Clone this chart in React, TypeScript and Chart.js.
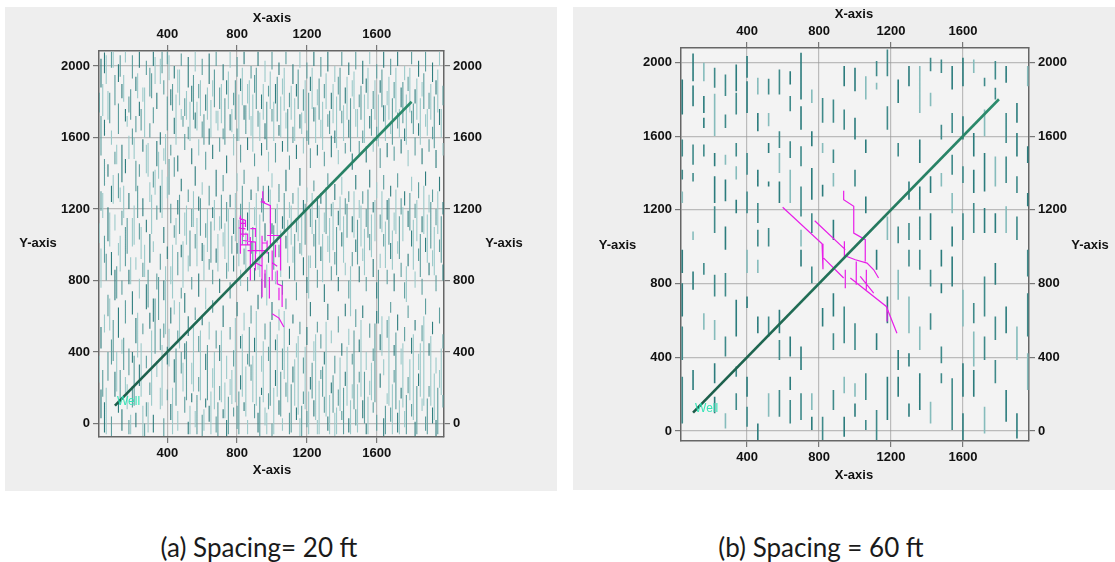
import { useEffect, useRef } from "react";
import { Chart, registerables } from "chart.js";

Chart.register(...registerables);

// ---------- data ----------
const X_TICKS = [400, 800, 1200, 1600];
const Y_TICKS = [0, 400, 800, 1200, 1600, 2000];
const WELL_X = [100, 1800];
const WELL_Y = [100, 1800];
const CAPTIONS = ["(a) Spacing= 20 ft", "(b) Spacing = 60 ft"];
const X_TITLE = "X-axis";
const Y_TITLE = "Y-axis";
const WELL_LABEL = "Well";

// natural fractures, panel (a): [x, y1, y2, y1, y2, ...]
const FRACS_A: number[][] = [
  [20, 1880, 2040, 1500, 1720, 1190, 1300, 760, 980, 420, 540, 30, 190],
  [40, 1960, 2075, 1610, 1700, 1330, 1480, 900, 1050, 510, 610, -50, 120],
  [60, 1700, 1860, 1380, 1450, 1020, 1210, 600, 720, 240, 400],
  [80, 1990, 2080, 1560, 1640, 1240, 1330, 830, 960, 330, 470, -70, 40],
  [100, 1780, 1950, 1450, 1520, 1080, 1170, 690, 860, 150, 290],
  [120, 1910, 2010, 1620, 1790, 1260, 1400, 940, 1010, 480, 650, 60, 130],
  [140, 1820, 1900, 1350, 1560, 1110, 1190, 720, 800, 390, 470, -40, 80],
  [160, 2020, 2080, 1690, 1760, 1400, 1480, 880, 1100, 560, 690, 170, 260],
  [180, 1740, 1830, 1480, 1610, 1200, 1290, 780, 860, 270, 420, -60, 20],
  [200, 1930, 2060, 1560, 1650, 990, 1150, 610, 740, 340, 400, 90, 210],
  [220, 1860, 1940, 1630, 1720, 1300, 1470, 860, 930, 450, 590, -20, 60],
  [240, 1990, 2080, 1720, 1800, 1380, 1450, 1030, 1120, 700, 810, 210, 330],
  [260, 1800, 1880, 1520, 1590, 1160, 1260, 820, 900, 500, 560, -70, 100],
  [280, 1950, 2030, 1400, 1560, 1070, 1140, 640, 780, 310, 380, 40, 120],
  [300, 1830, 1990, 1600, 1680, 1240, 1350, 900, 1060, 530, 620, 160, 230],
  [320, 2000, 2080, 1680, 1770, 1320, 1410, 960, 1020, 570, 700, -50, 50],
  [340, 1760, 1850, 1440, 1580, 1140, 1220, 750, 840, 260, 350],
  [360, 1900, 2040, 1560, 1630, 1180, 1330, 860, 950, 410, 530, 80, 200],
  [380, 1840, 1920, 1470, 1540, 1010, 1100, 690, 800, 480, 560, -70, 30],
  [400, 2010, 2080, 1640, 1830, 1260, 1380, 920, 990, 330, 430, 130, 190],
  [420, 1780, 1870, 1500, 1560, 1120, 1230, 780, 880, 560, 650, 20, 110],
  [440, 1930, 2000, 1620, 1710, 1380, 1490, 1040, 1110, 610, 690, 230, 360],
  [460, 1850, 1980, 1410, 1500, 1170, 1250, 830, 960, 450, 520, -40, 70],
  [480, 2000, 2070, 1700, 1760, 1300, 1370, 930, 1000, 700, 760, 280, 400],
  [500, 1720, 1820, 1530, 1620, 1050, 1180, 620, 730, 360, 450, 60, 150],
  [520, 1880, 2050, 1590, 1660, 1240, 1310, 850, 940, 490, 600, -60, 10],
  [540, 1800, 1890, 1450, 1540, 1100, 1200, 750, 820, 220, 340, 120, 170],
  [560, 1970, 2080, 1650, 1740, 1330, 1440, 980, 1060, 580, 650, -20, 70],
  [580, 1820, 1900, 1500, 1590, 1190, 1270, 710, 840, 400, 490, 180, 260],
  [600, 1950, 2040, 1600, 1690, 1280, 1350, 910, 1010, 550, 600, -70, 50],
  [620, 1750, 1840, 1420, 1520, 1040, 1120, 640, 760, 300, 390, 90, 140],
  [640, 1900, 2070, 1560, 1650, 1220, 1330, 860, 920, 470, 570, 10, 100],
  [660, 1830, 1920, 1480, 1560, 1150, 1210, 780, 860, 620, 690, 200, 310],
  [680, 2000, 2080, 1680, 1750, 1270, 1420, 900, 980, 420, 520, -50, 40],
  [700, 1760, 1880, 1520, 1600, 1080, 1160, 730, 810, 350, 440, 130, 210],
  [720, 1920, 2010, 1590, 1650, 1300, 1390, 990, 1070, 540, 660, 30, 80],
  [740, 1840, 1920, 1400, 1500, 1130, 1240, 810, 900, 250, 380, -70, 20],
  [760, 1990, 2080, 1640, 1730, 1210, 1280, 700, 790, 470, 540, 160, 250],
  [780, 1780, 1850, 1500, 1620, 1060, 1150, 850, 940, 320, 410, 40, 90],
  [800, 1940, 2050, 1580, 1650, 1300, 1400, 950, 1010, 600, 680, -30, 100],
  [820, 1860, 1930, 1460, 1560, 1150, 1230, 770, 860, 420, 490, 190, 270],
  [840, 2010, 2080, 1700, 1780, 1340, 1420, 890, 980, 520, 620, 70, 120],
  [860, 1790, 1900, 1530, 1600, 1080, 1180, 740, 820, 330, 390, -60, 20],
  [880, 1930, 2000, 1610, 1720, 1250, 1310, 950, 1020, 560, 660, 240, 330],
  [900, 1850, 1950, 1440, 1510, 1110, 1210, 800, 870, 400, 480, 30, 110],
  [920, 2000, 2080, 1660, 1750, 1300, 1380, 860, 920, 640, 720, -50, 60],
  [940, 1760, 1840, 1500, 1570, 1180, 1260, 700, 810, 290, 380, 160, 200],
  [960, 1910, 2030, 1590, 1680, 1020, 1120, 760, 840, 470, 560, -10, 90],
  [980, 1830, 1890, 1410, 1520, 1240, 1330, 900, 960, 350, 430, 80, 170],
  [1000, 1980, 2080, 1690, 1760, 1320, 1400, 1060, 1120, 580, 680, -70, 0],
  [1020, 1790, 1900, 1460, 1570, 1120, 1200, 780, 850, 410, 470, 210, 300],
  [1040, 1950, 2020, 1610, 1670, 1240, 1340, 930, 1000, 520, 640, 50, 130],
  [1060, 1840, 1930, 1520, 1580, 1090, 1160, 720, 800, 300, 420, -40, 30],
  [1080, 2010, 2080, 1650, 1740, 1300, 1420, 980, 1050, 640, 700, 150, 230],
  [1100, 1770, 1850, 1420, 1500, 1150, 1240, 810, 880, 440, 530, -60, 60],
  [1120, 1900, 2010, 1570, 1660, 1230, 1290, 900, 990, 560, 610, 230, 320],
  [1140, 1830, 1900, 1480, 1560, 1070, 1150, 690, 790, 370, 450, 20, 90],
  [1160, 1990, 2080, 1650, 1730, 1330, 1430, 950, 1010, 500, 570, -70, 30],
  [1180, 1750, 1870, 1510, 1600, 1180, 1250, 830, 930, 280, 370, 110, 180],
  [1200, 1930, 2020, 1580, 1640, 1240, 1320, 730, 820, 440, 540, -20, 70],
  [1220, 1860, 1940, 1430, 1540, 1100, 1200, 870, 940, 600, 680, 190, 260],
  [1240, 2000, 2080, 1690, 1770, 1300, 1360, 990, 1060, 350, 460, 40, 130],
  [1260, 1780, 1870, 1500, 1560, 1150, 1270, 760, 860, 510, 570, -60, 20],
  [1280, 1940, 2050, 1600, 1700, 1230, 1290, 910, 990, 420, 500, 250, 300],
  [1300, 1820, 1900, 1440, 1520, 1070, 1180, 680, 780, 330, 400, 60, 150],
  [1320, 1970, 2080, 1660, 1730, 1330, 1400, 960, 1050, 580, 670, -40, 40],
  [1340, 1760, 1850, 1490, 1610, 1160, 1230, 800, 880, 450, 520, 170, 230],
  [1360, 1910, 2000, 1570, 1640, 1250, 1340, 890, 960, 280, 380, -70, 60],
  [1380, 1840, 1940, 1450, 1530, 1110, 1190, 740, 820, 510, 600, 100, 190],
  [1400, 2000, 2080, 1680, 1750, 1280, 1380, 990, 1070, 380, 450, 20, 70],
  [1420, 1790, 1880, 1510, 1570, 1170, 1260, 830, 900, 600, 670, 210, 290],
  [1440, 1950, 2020, 1600, 1700, 1240, 1300, 700, 800, 440, 530, -50, 30],
  [1460, 1830, 1920, 1420, 1510, 1070, 1160, 880, 960, 330, 390, 140, 220],
  [1480, 1980, 2080, 1660, 1760, 1310, 1390, 960, 1030, 540, 640, -10, 80],
  [1500, 1770, 1840, 1500, 1580, 1150, 1250, 790, 880, 400, 470, 230, 290],
  [1520, 1900, 2030, 1570, 1640, 1230, 1300, 910, 980, 590, 660, 30, 130],
  [1540, 1850, 1930, 1460, 1550, 1100, 1200, 740, 820, 300, 400, -60, 0],
  [1560, 2010, 2080, 1650, 1720, 1320, 1420, 970, 1060, 480, 560, 160, 240],
  [1580, 1760, 1860, 1520, 1600, 1180, 1240, 820, 920, 350, 420, 60, 120],
  [1600, 1930, 2010, 1580, 1660, 1260, 1350, 700, 790, 560, 630, -40, 50],
  [1620, 1850, 1920, 1430, 1540, 1090, 1170, 870, 950, 410, 500, 200, 280],
  [1640, 1990, 2080, 1690, 1780, 1310, 1390, 990, 1060, 270, 360, -70, 30],
  [1660, 1780, 1860, 1490, 1570, 1140, 1250, 780, 860, 480, 580, 110, 170],
  [1680, 1950, 2040, 1620, 1690, 1270, 1330, 920, 1010, 620, 680, 10, 90],
  [1700, 1820, 1910, 1470, 1550, 1080, 1180, 740, 840, 380, 440, 230, 300],
  [1720, 2000, 2080, 1650, 1740, 1320, 1400, 950, 1020, 520, 610, -50, 60],
  [1740, 1770, 1880, 1510, 1590, 1170, 1260, 820, 900, 330, 420, 140, 200],
  [1760, 1920, 2000, 1580, 1650, 1220, 1300, 700, 790, 460, 540, -20, 70],
  [1780, 1860, 1940, 1440, 1530, 1100, 1190, 880, 950, 590, 660, 170, 260],
  [1800, 2010, 2080, 1680, 1750, 1300, 1380, 990, 1080, 390, 480, 40, 110],
  [1820, 1790, 1870, 1500, 1600, 1150, 1230, 760, 850, 520, 580, -70, 10],
  [1840, 1940, 2030, 1610, 1680, 1260, 1350, 910, 980, 300, 390, 210, 280],
  [1860, 1830, 1910, 1450, 1540, 1070, 1160, 720, 810, 460, 550, 70, 140],
  [1880, 1970, 2080, 1660, 1730, 1330, 1410, 960, 1040, 610, 700, -40, 40],
  [1900, 1760, 1850, 1520, 1590, 1180, 1280, 830, 900, 380, 450, 150, 210],
  [1920, 1910, 2020, 1590, 1660, 1240, 1310, 880, 970, 500, 570, 0, 90],
  [1940, 1840, 1920, 1430, 1530, 1110, 1200, 740, 830, 280, 370, -70, 20],
  [1960, 2000, 2080, 1670, 1760, 1300, 1380, 960, 1030, 560, 650, 200, 300],
  [1980, 1780, 1890, 1500, 1570, 1170, 1240, 800, 890, 420, 500, 90, 160],
];

// more natural fractures in panel (a), staggered columns
const FRACS_A2: number[][] = [
  [10, 1740, 1850, 1010, 1120, 230, 380],
  [30, 1720, 1900, 1150, 1290, 150, 300],
  [50, 1900, 2060, 800, 950, -60, 200],
  [70, 1680, 1850, 990, 1180, 520, 700],
  [90, 1990, 2080, 1230, 1390, 350, 580],
  [110, 1450, 1560, 700, 880, 180, 400],
  [130, 1940, 2060, 1240, 1320, 850, 1050, 110, 300],
  [150, 1800, 1950, 1150, 1330, 300, 480],
  [170, 1660, 1720, 950, 1150, 80, 220],
  [190, 1700, 1870, 780, 930, -60, 50],
  [210, 1480, 1600, 1000, 1220, 100, 380],
  [230, 1820, 1960, 1150, 1330, 370, 620],
  [250, 1640, 1760, 920, 1100, 150, 450],
  [270, 1600, 1880, 820, 1000, -70, 0],
  [290, 1380, 1570, 650, 860, -50, 120],
  [310, 1820, 1960, 1060, 1280, 100, 520],
  [330, 1900, 2050, 1280, 1420, 390, 700],
  [350, 1370, 1520, 580, 820],
  [370, 1960, 2080, 1150, 1420, 100, 440],
  [390, 1450, 1620, 500, 880],
  [410, 1920, 2060, 1280, 1480, 320, 530],
  [430, 1750, 1900, 700, 1000, -60, 200],
  [450, 1560, 1840, 1000, 1150, 100, 420],
  [470, 1780, 1980, 1060, 1280, 420, 680],
  [490, 1660, 1720, 760, 1020, 180, 340],
  [510, 1700, 1860, 1000, 1220, 130, 460],
  [530, 1580, 1800, 880, 1080, -60, 100],
  [550, 1700, 1950, 1100, 1300, 180, 560],
  [570, 1640, 1800, 880, 1150, -60, 160],
  [590, 1720, 1920, 1050, 1260, 130, 520],
  [610, 1560, 1730, 800, 1000, -40, 80],
  [630, 1700, 1880, 960, 1200, 130, 440],
  [650, 1600, 1810, 900, 1130, -60, 180],
  [670, 1770, 1980, 1080, 1250, 80, 400],
  [690, 1640, 1750, 850, 1060, -70, 120],
  [710, 1680, 1900, 1090, 1280, 120, 520],
  [730, 1560, 1820, 920, 1120, 30, 230],
  [750, 1760, 1970, 850, 1200, -60, 150],
  [770, 1630, 1760, 950, 1050, 110, 300],
  [790, 1700, 1920, 1020, 1290, 120, 590],
  [810, 1580, 1840, 880, 1140, -60, 180],
  [830, 1780, 1990, 1000, 1330, 150, 500],
  [850, 1620, 1780, 840, 1070, 40, 320],
  [870, 1700, 1920, 1020, 1240, 320, 540],
  [890, 1520, 1840, 890, 1100, 120, 380],
  [910, 1760, 1990, 950, 1290, 100, 630],
  [930, 1580, 1740, 820, 1170, -70, 150],
  [950, 1700, 1900, 1130, 1330, 120, 460],
  [970, 1530, 1800, 660, 890, -60, 60],
  [990, 1760, 1970, 1120, 1310, 100, 570],
  [1010, 1580, 1800, 860, 1110, -60, 200],
  [1030, 1690, 1940, 1010, 1230, 150, 500],
  [1050, 1600, 1830, 820, 1080, 40, 290],
  [1070, 1750, 1990, 1060, 1290, 250, 630],
  [1090, 1520, 1760, 900, 1140, 120, 430],
  [1110, 1700, 1890, 1000, 1220, -50, 220],
  [1130, 1580, 1820, 800, 1060, 100, 360],
  [1150, 1760, 1980, 1020, 1320, 50, 490],
  [1170, 1620, 1740, 940, 1170, -70, 100],
  [1190, 1680, 1920, 1000, 1230, 80, 430],
  [1210, 1560, 1850, 700, 940, -60, 180],
  [1230, 1760, 1990, 1060, 1290, 140, 340],
  [1250, 1570, 1770, 870, 1140, 20, 500],
  [1270, 1700, 1930, 1000, 1220, -60, 240],
  [1290, 1530, 1800, 790, 1060, 150, 320],
  [1310, 1760, 1960, 1060, 1320, 40, 570],
  [1330, 1620, 1750, 900, 1150, -60, 160],
  [1350, 1680, 1900, 970, 1240, 60, 270],
  [1370, 1540, 1830, 830, 1100, -60, 90],
  [1390, 1750, 1990, 1080, 1270, 70, 370],
  [1410, 1580, 1780, 900, 1160, -60, 200],
  [1430, 1700, 1940, 1040, 1230, 100, 430],
  [1450, 1520, 1820, 600, 880, -60, 130],
  [1470, 1760, 1970, 1040, 1300, 80, 520],
  [1490, 1600, 1760, 890, 1140, -50, 220],
  [1510, 1700, 1890, 990, 1220, 150, 580],
  [1530, 1570, 1840, 830, 1090, 0, 290],
  [1550, 1760, 1990, 1040, 1310, -60, 150],
  [1570, 1610, 1760, 930, 1170, 130, 340],
  [1590, 1700, 1920, 1020, 1250, 120, 560],
  [1610, 1550, 1840, 560, 860],
  [1630, 1770, 1980, 1070, 1300, 380, 600],
  [1650, 1580, 1780, 870, 1130, -60, 100],
  [1670, 1700, 1940, 1000, 1260, 100, 600],
  [1690, 1560, 1820, 860, 1080, -60, 220],
  [1710, 1740, 1990, 1060, 1310, 80, 510],
  [1730, 1600, 1760, 920, 1160, -60, 130],
  [1750, 1680, 1910, 1020, 1210, 90, 450],
  [1770, 1560, 1840, 680, 880, -60, 160],
  [1790, 1740, 1990, 1080, 1290, 130, 360],
  [1810, 1620, 1790, 860, 1140, 20, 500],
  [1830, 1700, 1930, 1020, 1250, -60, 210],
  [1850, 1560, 1820, 820, 1060, 150, 450],
  [1870, 1760, 1960, 1060, 1330, 100, 600],
  [1890, 1610, 1760, 900, 1170, -60, 140],
  [1910, 1700, 1900, 980, 1240, 100, 490],
  [1930, 1540, 1830, 830, 1100, 20, 280],
  [1950, 1740, 1980, 1060, 1300, -60, 200],
  [1970, 1600, 1760, 900, 1160, 160, 420],
];

// natural fractures, panel (b): [x, y1, y2, y1, y2, ...]
const FRACS_B: number[][] = [
  [40, 1907, 1717, 1581, 1490, 1418, 1364, 1300, 1237, 984, 857, 802, 621, 567, 386, 295, 41],
  [100, 2048, 1898, 1875, 1762, 1554, 1445, 1400, 1354, 1083, 1037, 866, 766, 331, 223],
  [160, 1998, 1898, 1817, 1726, 1699, 1644, 1554, 1490, 911, 848, 639, 549],
  [220, 1971, 1862, 1830, 1600, 1508, 1436, 1382, 1237, 1219, 1074, 848, 730, 603, 494, 368, 259, 186, 96],
  [280, 1934, 1817, 1717, 1644, 1499, 1445, 1364, 1246, 1110, 983, 857, 730, 513, 404, 96, 14],
  [340, 1989, 1844, 1835, 1717, 1563, 1490, 1436, 1364, 1255, 1182, 712, 513, 350, 295, 205, 114],
  [400, 2034, 1916, 1898, 1726, 1508, 1391, 1300, 1182, 984, 857, 730, 667, 295, 186, 132, 23],
  [460, 1916, 1826, 1726, 1626, 1418, 1327, 1237, 1128, 1092, 1001, 929, 857, 621, 531, 41, -49],
  [520, 1911, 1826, 1726, 1653, 1563, 1508, 1354, 1327, 1101, 1001, 621, 513, 205, 78],
  [580, 1961, 1826, 1626, 1536, 1508, 1400, 1354, 1237, 658, 531, 494, 386, 223, 78],
  [640, 1952, 1880, 1817, 1735, 1572, 1481, 1418, 1237, 513, 404, 295, 223, 168, 41],
  [700, 2052, 1798, 1762, 1635, 1545, 1436, 1327, 1164, 1092, 1001, 984, 893, 458, 331, 205, 60],
  [760, 1853, 1780, 1626, 1545, 1427, 1255, 1182, 1074, 893, 802, 205, 114, 78, 5],
  [820, 1807, 1672, 1563, 1508, 1336, 1273, 667, 567, 78, -49],
  [880, 1798, 1672, 1527, 1454, 1400, 1327, 1146, 1037, 748, 621, 531, 440, 223, 114],
  [940, 1980, 1871, 1744, 1635, 676, 476, 295, 205, 78, -31],
  [1000, 1971, 1844, 1699, 1581, 1418, 1327, 585, 440, 259, 186, 150, 78],
  [1060, 1925, 1798, 1581, 1508, 1273, 1182, 313, 168, 60, 5],
  [1120, 2007, 1925, 1889, 1853, 984, 875, 531, 440, 114, -49],
  [1180, 2070, 1925, 1762, 1635, 1164, 1037, 730, 585, 295, 60],
  [1240, 1907, 1780, 1563, 1490, 1110, 1019, 875, 712, 440, 331, 295, 186],
  [1300, 1980, 1871, 1354, 1255, 1128, 1037, 984, 893, 730, 531, 422, 350, 150, 78],
  [1360, 1980, 1726, 1581, 1454, 1327, 1200, 1164, 1037, 984, 875, 567, 440, 313, 114],
  [1420, 2025, 1952, 1835, 1762, 1382, 1291, 1182, 1037, 875, 784, 639, 549, 159, 41],
  [1480, 2016, 1943, 1662, 1581, 1400, 1327, 984, 893, 802, 748, 458, 368, 313, 259],
  [1540, 1980, 1853, 1726, 1617, 1499, 1391, 1291, 1182, 1110, 1001, 947, 784, 286, 5],
  [1600, 2025, 1871, 1708, 1581, 1436, 1346, 1182, 1037, 766, 567, 368, 186, 96, -49],
  [1660, 2016, 1943, 1617, 1490, 1418, 1291, 1237, 1074, 694, 585, 540, 350, 331, 186],
  [1720, 1916, 1871, 1744, 1599, 1508, 1300, 1210, 1074, 839, 621, 513, 386, 132, -13],
  [1780, 2007, 1907, 1862, 1798, 1490, 1327, 1182, 1074, 911, 794, 621, 494, 386, 259],
  [1840, 1980, 1889, 1726, 1563, 1490, 1346, 1219, 1074, 676, 531, 223, 51],
  [1900, 1780, 1672, 1617, 1490, 1382, 1291, 1164, 1037, 567, 386, 96, -40],
  [1960, 1980, 1871, 1545, 1454, 1291, 1219, 984, 839, 748, 513, 422, 223],
];

// hydraulic fractures (polylines): [x1, y1, x2, y2, ...]
const HF_A: number[][] = [
  [947, 1300, 947, 1238, 991, 1219, 991, 987],
  [935, 1240, 960, 1240],
  [819, 1164, 819, 950],
  [812, 1150, 848, 1136, 848, 1100],
  [809, 1095, 848, 1089],
  [819, 1120, 848, 1120],
  [819, 1060, 860, 1060, 860, 1000],
  [819, 1000, 876, 1000],
  [834, 1136, 834, 1043],
  [834, 1024, 905, 1015, 905, 856],
  [876, 1090, 905, 1090, 905, 1043],
  [876, 1043, 876, 801],
  [860, 968, 972, 968],
  [943, 1050, 943, 707],
  [943, 1010, 972, 1010],
  [972, 1052, 1049, 1052, 1049, 856],
  [972, 1024, 972, 950],
  [1001, 968, 1001, 801],
  [1020, 1000, 1020, 930],
  [960, 860, 960, 760],
  [985, 820, 985, 700],
  [1030, 856, 1030, 782, 1058, 770, 1058, 652],
  [1040, 760, 1040, 690],
  [1001, 614, 1040, 590, 1068, 540],
  [905, 900, 943, 880],
  [1001, 900, 1030, 880],
];

const HF_B: number[][] = [
  [598, 1214, 817, 1016, 822, 1016, 822, 878],
  [776, 1141, 946, 984],
  [941, 1029, 941, 944],
  [937, 1304, 937, 1255, 993, 1219, 993, 1074, 1057, 1038, 1057, 920],
  [955, 947, 1002, 929, 1067, 911, 1104, 875, 1131, 830],
  [1007, 920, 1007, 794],
  [946, 875, 946, 775],
  [826, 938, 937, 830],
  [974, 830, 1174, 676, 1233, 531],
  [1178, 676, 1178, 594],
  [1029, 839, 1104, 748],
  [1063, 875, 1063, 766],
];

// ---------- layout ----------
const FONT = '"Liberation Sans", Arial, Helvetica, sans-serif';

type PanelCfg = {
  fracs: number[][][];
  hf: number[][];
  caption: string;
  left: number;
  top: number;
  width: number;
  height: number;
  margins: [number, number, number, number];
  xr: [number, number];
  yr: [number, number];
  titles: { top: [number, number]; bottom: [number, number]; left: [number, number]; right: [number, number] };
  captionX: number;
  fracWidth: number;
  shades: string[];
};

const PANELS: PanelCfg[] = [
  {
    fracs: [FRACS_A, FRACS_A2],
    hf: HF_A,
    caption: CAPTIONS[0],
    left: 5,
    top: 7,
    width: 552,
    height: 484,
    margins: [94, 44, 113, 54],
    xr: [8.6, 1985.7],
    yr: [-75, 2084],
    titles: { top: [267, 11.7], bottom: [267, 463], left: [33, 236.5], right: [499, 236.5] },
    captionX: 259,
    fracWidth: 1.1,
    shades: ["#2f7d7e", "#5f9f9f", "#9ccaca"],
  },
  {
    fracs: [FRACS_B],
    hf: HF_B,
    caption: CAPTIONS[1],
    left: 573,
    top: 7,
    width: 542,
    height: 483,
    margins: [108, 41, 86, 49],
    xr: [33, 1967],
    yr: [-54, 2078],
    titles: { top: [281, 7.5], bottom: [281, 468.5], left: [44.5, 238], right: [517, 238] },
    captionX: 821,
    fracWidth: 1.6,
    shades: ["#2c7c7d", "#3f8a8a", "#86bcbc"],
  },
];

// shade index: 0 dark, 1 mid, 2 light
function shadeOf(gi: number, ci: number, si: number) {
  if (gi === 0) {
    const m = (ci * 3 + si * 2) % 5;
    return m === 0 || m === 3 ? 0 : m === 1 ? 2 : 1;
  }
  return (ci + si) % 3 === 0 ? 1 : 2;
}

function fracPoints(groups: number[][][], shade: number) {
  const pts: { x: number; y: number | null }[] = [];
  groups.forEach((cols, gi) => {
    cols.forEach((c, ci) => {
      const x = c[0];
      for (let k = 1; k + 1 < c.length; k += 2) {
        const si = (k - 1) / 2;
        if (shadeOf(gi, ci, si) !== shade) continue;
        pts.push({ x, y: c[k] }, { x, y: c[k + 1] }, { x, y: null });
      }
    });
  });
  return pts;
}

function polyPoints(lines: number[][]) {
  const pts: { x: number; y: number | null }[] = [];
  lines.forEach((l) => {
    for (let k = 0; k + 1 < l.length; k += 2) pts.push({ x: l[k], y: l[k + 1] });
    pts.push({ x: l[l.length - 2], y: null });
  });
  return pts;
}

function Panel({ cfg }: { cfg: PanelCfg }) {
  const ref = useRef<HTMLCanvasElement | null>(null);

  useEffect(() => {
    if (!ref.current) return;
    const [mL, mT, mR, mB] = cfg.margins;

    const decor = {
      id: "decor",
      beforeDraw(chart: any) {
        const { ctx, chartArea: a } = chart;
        ctx.save();
        ctx.fillStyle = "#f3f3f3";
        ctx.fillRect(a.left, a.top, a.right - a.left, a.bottom - a.top);
        ctx.restore();
      },
      afterDatasetsDraw(chart: any) {
        const { ctx } = chart;
        const xs = chart.scales.x;
        const ys = chart.scales.y;
        ctx.save();
        ctx.font = `12px ${FONT}`;
        ctx.fillStyle = "#35e3b6";
        ctx.textAlign = "left";
        ctx.textBaseline = "middle";
        ctx.fillText(WELL_LABEL, xs.getPixelForValue(WELL_X[0]) + 2, ys.getPixelForValue(WELL_Y[0]) - 4);
        ctx.restore();
      },
      afterDraw(chart: any) {
        const { ctx } = chart;
        ctx.save();
        ctx.font = `bold 13px ${FONT}`;
        ctx.fillStyle = "#111";
        ctx.textAlign = "center";
        ctx.textBaseline = "middle";
        const t = cfg.titles;
        ctx.fillText(X_TITLE, t.top[0], t.top[1]);
        ctx.fillText(X_TITLE, t.bottom[0], t.bottom[1]);
        ctx.fillText(Y_TITLE, t.left[0], t.left[1]);
        ctx.fillText(Y_TITLE, t.right[0], t.right[1]);
        ctx.restore();
      },
    };

    const tickFont = { family: FONT, size: 13, weight: "bold" };
    const border = { display: true, color: "#666", width: 1.5 };
    const mkScale = (axis: "x" | "y", position: string, primary: boolean, size: number) => ({
      type: "linear",
      position,
      min: axis === "x" ? cfg.xr[0] : cfg.yr[0],
      max: axis === "x" ? cfg.xr[1] : cfg.yr[1],
      afterBuildTicks: (s: any) => {
        s.ticks = (axis === "x" ? X_TICKS : Y_TICKS).map((v) => ({ value: v }));
      },
      afterFit: (s: any) => {
        if (axis === "x") s.height = size;
        else s.width = size;
      },
      ticks: {
        font: tickFont,
        color: "#111",
        padding: 3,
        maxRotation: 0,
        autoSkip: false,
        callback: (v: any) => String(v),
      },
      grid: {
        drawOnChartArea: primary,
        drawTicks: true,
        tickLength: 6,
        tickColor: "#777",
        color: "rgba(150,150,150,0.6)",
        lineWidth: 1.2,
      },
      border,
    });

    const wellColor = (c: any) => {
      const ch = c.chart;
      const a = ch.chartArea;
      if (!a) return "#237a5c";
      const g = ch.ctx.createLinearGradient(a.left, a.bottom, a.right, a.top);
      g.addColorStop(0, "#1a5846");
      g.addColorStop(1, "#2e9372");
      return g;
    };

    const fracDs = (shade: number) => ({
      data: fracPoints(cfg.fracs, shade),
      borderColor: cfg.shades[shade],
      borderWidth: cfg.fracWidth,
      pointRadius: 0,
      order: 2 + (2 - shade),
      clip: 0,
    });

    const chart = new Chart(ref.current, {
      type: "line",
      data: {
        datasets: [
          {
            data: [
              { x: WELL_X[0], y: WELL_Y[0] },
              { x: WELL_X[1], y: WELL_Y[1] },
            ],
            borderColor: wellColor,
            borderWidth: 2.6,
            pointRadius: 0,
            order: 0,
            clip: 0,
          },
          {
            data: polyPoints(cfg.hf),
            borderColor: "#e81ee8",
            borderWidth: 1.2,
            pointRadius: 0,
            order: 1,
            clip: 0,
          },
          fracDs(0),
          fracDs(1),
          fracDs(2),
        ],
      } as any,
      options: {
        animation: false,
        responsive: false,
        devicePixelRatio: 1,
        events: [],
        spanGaps: false,
        layout: { padding: 0 },
        plugins: { legend: { display: false }, tooltip: { enabled: false }, title: { display: false } },
        scales: {
          x: mkScale("x", "bottom", true, mB),
          x2: mkScale("x", "top", false, mT),
          y: mkScale("y", "left", true, mL),
          y2: mkScale("y", "right", false, mR),
        },
      } as any,
      plugins: [decor],
    });
    return () => chart.destroy();
  }, [cfg]);

  return (
    <div
      style={{
        position: "absolute",
        left: cfg.left,
        top: cfg.top,
        width: cfg.width,
        height: cfg.height,
        background: "#eeeeee",
      }}
    >
      <canvas ref={ref} width={cfg.width} height={cfg.height} style={{ display: "block" }} />
    </div>
  );
}

export default function App() {
  return (
    <div
      style={{
        position: "fixed",
        left: 0,
        top: 0,
        width: 1115,
        height: 562,
        background: "#ffffff",
        overflow: "hidden",
      }}
    >
      {PANELS.map((p, i) => (
        <Panel key={i} cfg={p} />
      ))}
      {PANELS.map((p, i) => (
        <div
          key={"c" + i}
          style={{
            position: "absolute",
            left: p.captionX - 160,
            width: 320,
            top: 531,
            height: 32,
            lineHeight: "32px",
            textAlign: "center",
            fontFamily: "Lato, 'Open Sans', sans-serif",
            fontSize: 26,
            color: "#1a1a1a",
            whiteSpace: "nowrap",
          }}
        >
          {p.caption}
        </div>
      ))}
    </div>
  );
}
